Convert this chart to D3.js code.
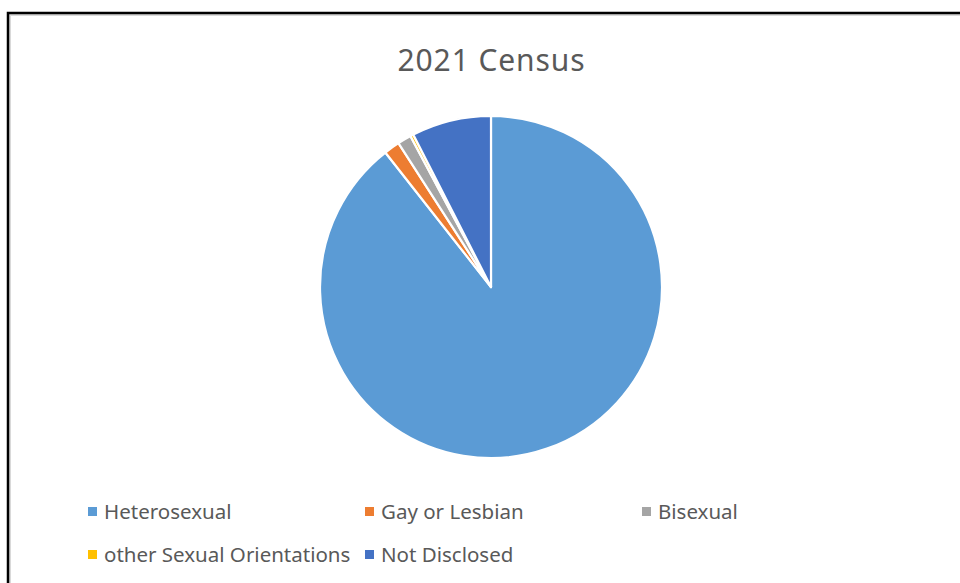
<!DOCTYPE html>
<html>
<head>
<meta charset="utf-8">
<script src="https://cdn.jsdelivr.net/npm/d3@7"></script>
<style>
  html, body { margin: 0; padding: 0; background: #fff; }
  svg { display: block; }
  text { font-family: "Noto Sans", "Liberation Sans", sans-serif; fill: #595959; }
</style>
</head>
<body>
<svg id="chart" width="960" height="583"></svg>
<script>
// Sexual orientation, 2021 Census (percent of population)
const categories = ["Heterosexual", "Gay or Lesbian", "Bisexual", "other Sexual Orientations", "Not Disclosed"];
const values = [89.4, 1.5, 1.3, 0.3, 7.5];
const colors = ["#5B9BD5", "#ED7D31", "#A5A5A5", "#FFC000", "#4472C4"];
const title = "2021 Census";

const W = 960, H = 583;
const svg = d3.select("#chart");

// chart frame: soft inner shadow plus black outline
svg.append("rect").attr("x", 10).attr("y", 15).attr("width", W).attr("height", H)
  .attr("fill", "none").attr("stroke", "#d9d9d9").attr("stroke-width", 2);
svg.append("rect").attr("x", 8).attr("y", 13).attr("width", W).attr("height", H)
  .attr("fill", "none").attr("stroke", "#000").attr("stroke-width", 2.5);

svg.append("text")
  .attr("x", 491).attr("y", 71)
  .attr("text-anchor", "middle")
  .style("font-size", "30px")
  .attr("textLength", 187)
  .text(title);

const cx = 491, cy = 287, r = 171;
const pie = d3.pie().sort(null).value(d => d.v);
const arc = d3.arc().innerRadius(0).outerRadius(r);
const data = categories.map((c, i) => ({ c, v: values[i], col: colors[i] }));

svg.append("g").attr("transform", `translate(${cx},${cy})`)
  .selectAll("path")
  .data(pie(data))
  .join("path")
  .attr("d", arc)
  .attr("fill", d => d.data.col)
  .attr("stroke", "#fff")
  .attr("stroke-width", 2.2)
  .attr("stroke-linejoin", "round");

// legend, three columns
const colX = d3.scaleOrdinal().domain([0, 1, 2]).range([88, 365, 642]);
const rowY = d3.scaleOrdinal().domain([0, 1]).range([512, 555]);
const lg = svg.append("g").selectAll("g")
  .data(data)
  .join("g")
  .attr("transform", (d, i) => `translate(${colX(i % 3)},${rowY(Math.floor(i / 3))})`);
lg.append("rect").attr("x", 0).attr("y", -5).attr("width", 9).attr("height", 9)
  .attr("fill", d => d.col);
lg.append("text").attr("x", 16).attr("y", 7)
  .style("font-size", "20.5px")
  .text(d => d.c);
</script>
</body>
</html>
